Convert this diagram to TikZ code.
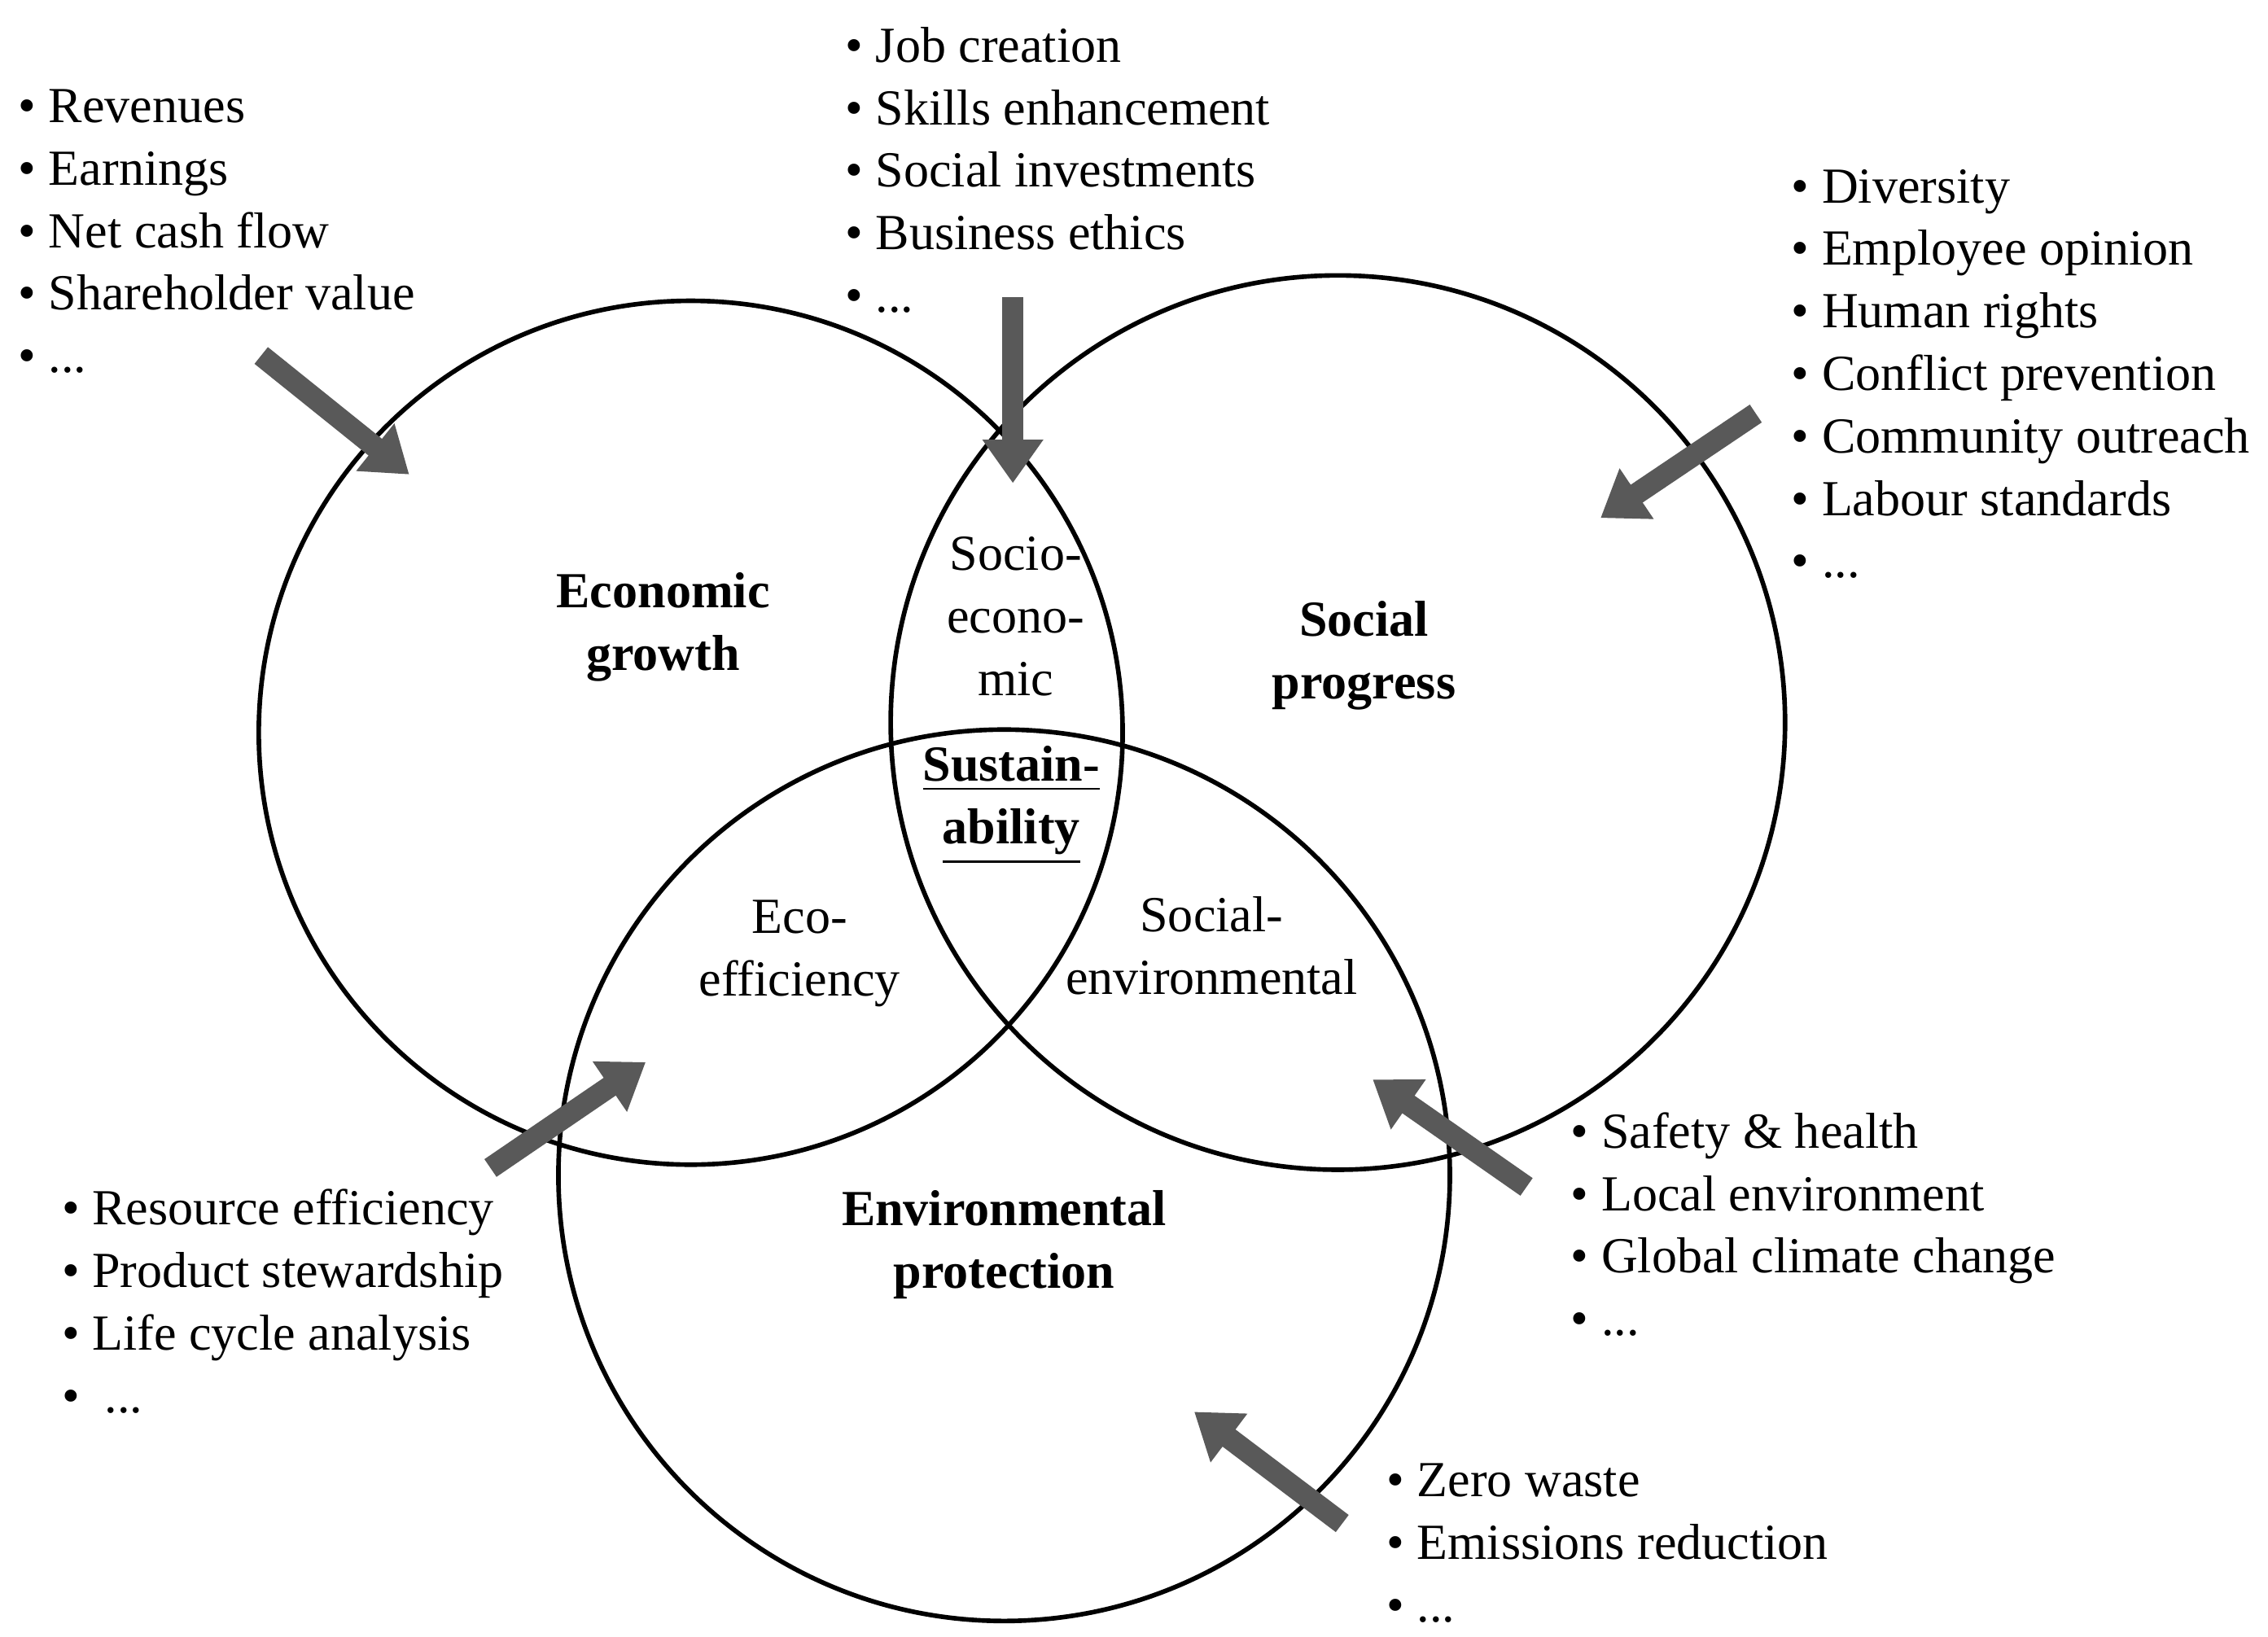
\documentclass[tikz,border=0pt]{standalone}
\usepackage{fontspec}
\setmainfont{Liberation Serif}
\usetikzlibrary{arrows.meta}
\tikzset{
 circ/.style={draw=black,line width=0.9pt},
 bigarrow/.style={draw=black!65,line width=4.2pt,-{Triangle[length=0.3cm,width=0.4cm]}},
 lst/.style={anchor=north west,align=left,inner sep=0pt,font=\fontsize{9.9}{12.25}\selectfont},
 lab/.style={align=center,inner sep=0pt,font=\fontsize{9.9}{12.25}\selectfont},
 blab/.style={lab,font=\fontsize{9.9}{12.25}\selectfont\bfseries}
}
\begin{document}
\begin{tikzpicture}[x=0.01cm,y=-0.01cm]
\useasboundingbox (0,0) rectangle (1563,1128);
\fill[white] (0,0) rectangle (1563,1128);
\node[circ,circle,minimum size=5.95cm,inner sep=0pt] (ce) at (476,505) {};
\node[circ,circle,minimum size=6.16cm,inner sep=0pt] (cs) at (922,498) {};
\node[circ,circle,minimum size=6.14cm,inner sep=0pt] (cv) at (692,810) {};

\node[blab] (eg) at (457,432) {Economic\\growth};
\node[blab] (sp) at (940,452) {Social\\progress};
\node[blab] (ep) at (692,858) {Environmental\\protection};
\node[lab] (se) at (700,425) {Socio-\\econo-\\mic};
\node[blab] (su) at (697,555) {\underline{Sustain-}\\\underline{ability}};
\node[lab] (ee) at (551,657) {Eco-\\efficiency};
\node[lab] (sen) at (835,652) {Social-\\environmental};

\node[lst] (l1) at (12,61) {• Revenues\\• Earnings\\• Net cash flow\\• Shareholder value\\• ...};
\node[lst] (l2) at (582,18) {• Job creation\\• Skills enhancement\\• Social investments\\• Business ethics\\• ...};
\node[lst] (l3) at (1234,116) {• Diversity\\• Employee opinion\\• Human rights\\• Conflict prevention\\• Community outreach\\• Labour standards\\• ...};
\node[lst] (l4) at (42,819) {• Resource efficiency\\• Product stewardship\\• Life cycle analysis\\•\ \ ...};
\node[lst] (l5) at (1082,766) {• Safety \& health\\• Local environment\\• Global climate change\\• ...};
\node[lst] (l6) at (955,1008) {• Zero waste\\• Emissions reduction\\• ...};

\coordinate (a1s) at (180,245); \coordinate (a1e) at (282,327);
\coordinate (a2s) at (698,205); \coordinate (a2e) at (698,333);
\coordinate (a3s) at (1210,285); \coordinate (a3e) at (1103,357);
\coordinate (a4s) at (338,805); \coordinate (a4e) at (445,732);
\coordinate (a5s) at (1052,818); \coordinate (a5e) at (946,744);
\coordinate (a6s) at (925,1050); \coordinate (a6e) at (823,973);
\foreach \i in {1,...,6} \draw[bigarrow] (a\i s) -- (a\i e);
\end{tikzpicture}
\end{document}
